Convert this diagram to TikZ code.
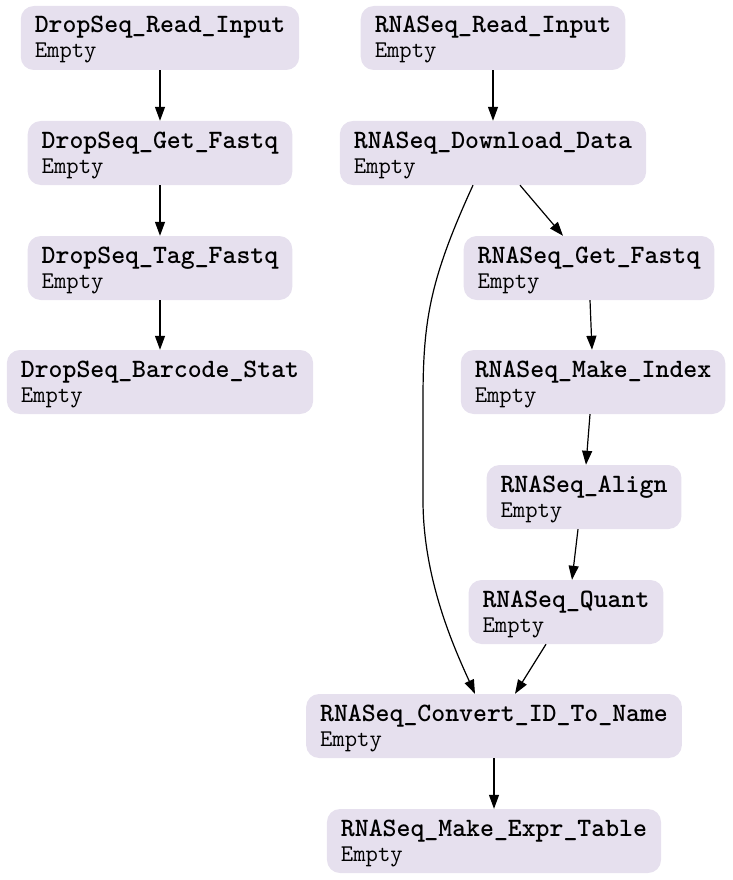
\documentclass[tikz,border=0pt]{standalone}
\usepackage{fontspec}
\usetikzlibrary{arrows.meta}

\definecolor{taskfill}{HTML}{E6E0EE}

\tikzset{
  task/.style={fill=taskfill, rounded corners=13pt, align=left,
    inner xsep=14pt, inner ysep=0pt, minimum height=64pt,
    font=\ttfamily\fontsize{26.5}{25}\selectfont},
  flow/.style={line width=1.2pt, -{Triangle[length=14pt,width=10pt]}}
}
\newcommand{\tasklabel}[1]{\rule{0pt}{27pt}{\bfseries #1}\\
  {\fontsize{24}{25}\selectfont\rule[-12pt]{0pt}{12pt}Empty}}

\begin{document}
\begin{tikzpicture}[x=1pt, y=-1pt]
  \useasboundingbox (0,0) rectangle (732,880);

  % DropSeq branch
  \node[task] (dri) at (160,38) {\tasklabel{DropSeq\_Read\_Input}};
  \node[task] (dgf) at (160,153) {\tasklabel{DropSeq\_Get\_Fastq}};
  \node[task] (dtf) at (160,268) {\tasklabel{DropSeq\_Tag\_Fastq}};
  \node[task] (dbs) at (160,382) {\tasklabel{DropSeq\_Barcode\_Stat}};

  % RNASeq branch
  \node[task] (rri) at (493,38) {\tasklabel{RNASeq\_Read\_Input}};
  \node[task] (rdd) at (493,153) {\tasklabel{RNASeq\_Download\_Data}};
  \node[task] (rgf) at (589,268) {\tasklabel{RNASeq\_Get\_Fastq}};
  \node[task] (rmi) at (593,382) {\tasklabel{RNASeq\_Make\_Index}};
  \node[task] (ral) at (584,497) {\tasklabel{RNASeq\_Align}};
  \node[task] (rqu) at (566,612) {\tasklabel{RNASeq\_Quant}};
  \node[task] (rcv) at (494,726) {\tasklabel{RNASeq\_Convert\_ID\_To\_Name}};
  \node[task] (ret) at (494,841) {\tasklabel{RNASeq\_Make\_Expr\_Table}};

  \draw[flow] (dri) -- (dgf);
  \draw[flow] (dgf) -- (dtf);
  \draw[flow] (dtf) -- (dbs);

  \draw[flow] (rri) -- (rdd);
  \draw[flow] ([xshift=27pt]rdd.south) -- ([xshift=-26pt]rgf.north);
  \draw[flow] ([xshift=-20pt]rdd.south)
    .. controls +(-43,94) and +(0,-80) .. (423,400)
    -- (423,500)
    .. controls +(0,80) and +(-20,-44) .. ([xshift=-19pt]rcv.north);
  \draw[flow] ([xshift=1pt]rgf.south) -- ([xshift=-1pt]rmi.south |- rmi.north);
  \draw[flow] ([xshift=-3pt]rmi.south) -- ([xshift=2pt]ral.north);
  \draw[flow] ([xshift=-6pt]ral.south) -- ([xshift=6pt]rqu.north);
  \draw[flow] ([xshift=-20pt]rqu.south) -- ([xshift=21pt]rcv.north);
  \draw[flow] (rcv) -- (ret);
\end{tikzpicture}
\end{document}
